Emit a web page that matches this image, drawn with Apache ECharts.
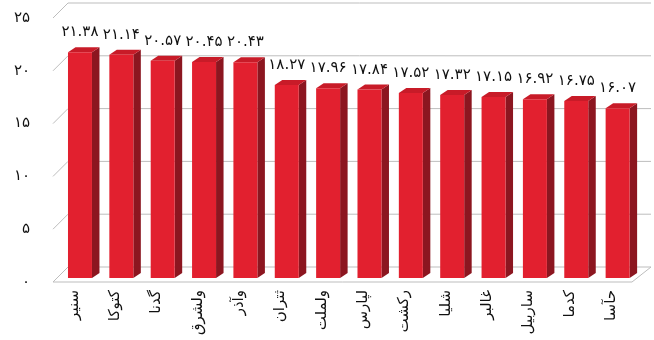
<!DOCTYPE html>
<html lang="fa">
<head>
    <meta charset="utf-8">
    <title>3D bar chart</title>
    <style>
        html, body { margin: 0; padding: 0; background: #fff; }
        #main { width: 654px; height: 340px; }
    </style>
</head>
<body>
    <div id="main"></div>
    <script src="https://cdn.jsdelivr.net/npm/echarts@6/dist/echarts.min.js"></script>
    <script>
    // chart data
    var categories = ['سنیر', 'کتوکا', 'گدنا', 'ولشرق', 'وآذر', 'ثتران', 'ولملت', 'لپارس', 'رکشت', 'شلیا', 'غالبر', 'ساربیل', 'کدما', 'حآسا'];
    var values = [21.38, 21.14, 20.57, 20.45, 20.43, 18.27, 17.96, 17.84, 17.52, 17.32, 17.15, 16.92, 16.75, 16.07];
    var yTicks = [0, 5, 10, 15, 20, 25];

    var FONT = '"DejaVu Sans", sans-serif';

    // latin digits -> persian digits
    function fa(s) {
        return String(s).replace(/\d/g, function (d) { return '۰۱۲۳۴۵۶۷۸۹'[d]; });
    }

    var chart = echarts.init(document.getElementById('main'));

    // back wall / floor lines
    function renderWall(params, api) {
        var cs = params.coordSys;
        var v = api.value(1);
        var y = api.coord([0, v])[1];
        var x0 = cs.x, x1 = cs.x + cs.width;
        var style = { stroke: '#bdbdbd', lineWidth: 1, fill: null };
        var children = [{
            type: 'polyline',
            shape: { points: [[x0, y], [x0 + 15, y - 15], [x1 + 19, y - 15]] },
            style: style
        }];
        if (v === 0) {
            children.push({
                type: 'polyline',
                shape: { points: [[x0, y], [x1, y], [x1 + 19, y - 15]] },
                style: style
            });
        }
        return { type: 'group', silent: true, children: children };
    }

    // 3d looking bars
    function renderBar(params, api) {
        var i = api.value(0);
        var v = api.value(1);
        var band = api.size([1, 0])[0];
        var top = api.coord([i, v]);
        var base = api.coord([i, 0]);
        var w = band * 0.58;
        var ox = 6.3, oy = -4, dx = 7.5, dy = -5;
        var xl = top[0] - w / 2 + ox;
        var xr = xl + w;
        var yt = top[1] + oy;
        var yb = base[1] + oy;
        return {
            type: 'group',
            children: [{
                type: 'polygon',
                shape: { points: [[xr, yt], [xr + dx, yt + dy], [xr + dx, yb + dy], [xr, yb]] },
                style: { fill: '#8c1620' }
            }, {
                type: 'polygon',
                shape: { points: [[xl, yt], [xl + dx, yt + dy], [xr + dx, yt + dy], [xr, yt]] },
                style: { fill: '#c81b28' }
            }, {
                type: 'rect',
                shape: { x: xl, y: yt, width: w, height: yb - yt },
                style: { fill: '#e2202f' }
            }, {
                type: 'text',
                style: {
                    text: fa(v.toFixed(2)),
                    x: (xl + xr) / 2,
                    y: yt + dy - 15,
                    align: 'center',
                    verticalAlign: 'middle',
                    fill: '#111',
                    font: '15px ' + FONT
                }
            }]
        };
    }

    var option = {
        animation: false,
        grid: { left: 53, right: 22, top: 18, bottom: 58 },
        xAxis: {
            type: 'category',
            data: categories,
            axisLine: { show: false },
            axisTick: { show: false },
            axisLabel: {
                rotate: 90,
                margin: 8,
                interval: 0,
                color: '#111',
                fontSize: 15,
                fontFamily: FONT
            }
        },
        yAxis: {
            type: 'value',
            min: 0,
            max: 25,
            interval: 5,
            axisLine: { show: false },
            axisTick: { show: false },
            splitLine: { show: false },
            axisLabel: {
                margin: 23,
                color: '#111',
                fontSize: 15,
                fontFamily: FONT,
                formatter: function (v) { return fa(v); }
            }
        },
        series: [{
            type: 'custom',
            renderItem: renderWall,
            data: yTicks.map(function (t) { return [0, t]; }),
            encode: { x: 0, y: 1 },
            z: 1,
            silent: true
        }, {
            type: 'custom',
            renderItem: renderBar,
            data: values.map(function (v, i) { return [i, v]; }),
            encode: { x: 0, y: 1 },
            z: 2
        }]
    };

    chart.setOption(option);
    </script>
</body>
</html>
